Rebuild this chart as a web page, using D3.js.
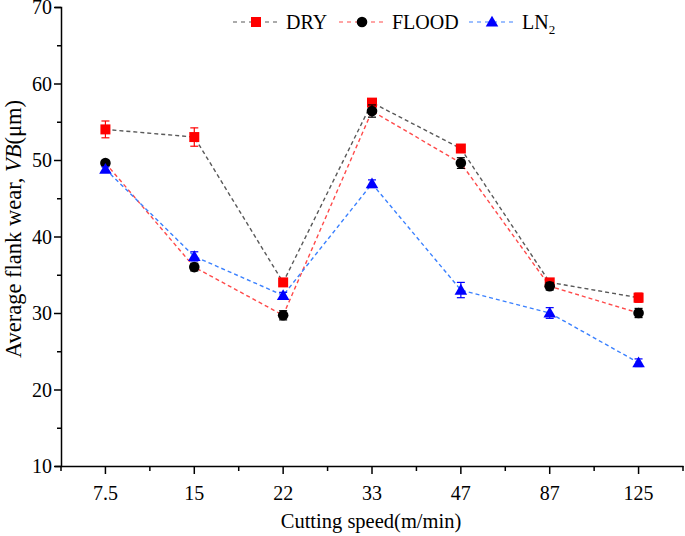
<!DOCTYPE html>
<html><head><meta charset="utf-8">
<script src="https://cdn.jsdelivr.net/npm/d3@7"></script>
</head><body style="margin:0;background:#fff"><svg id="c" width="685" height="536" font-family="Liberation Serif"></svg>
<script>
const categories = ["7.5","15","22","33","47","87","125"];
const dryValues   = [54, 53, 34, 57.5, 51.5, 34, 32];
const dryErrors   = [1.1, 1.2, 0.5, 0.4, 0.4, 0.4, 0.6];
const floodValues = [49.6, 36, 29.7, 56.4, 49.6, 33.5, 30];
const floodErrors = [0.3, 0.5, 0.6, 0.8, 0.7, 0.5, 0.6];
const ln2Values   = [48.8, 37.4, 32.3, 46.9, 33, 30, 23.5];
const ln2Errors   = [0.3, 0.6, 0.4, 0.5, 1.0, 0.7, 0.5];
const yTicks = [10, 20, 30, 40, 50, 60, 70];

const series = [
  {name:"DRY", values:dryValues, errors:dryErrors, line:"#595959", mark:"#ff0000", shape:"square"},
  {name:"FLOOD", values:floodValues, errors:floodErrors, line:"#ff4a4a", mark:"#000000", shape:"circle"},
  {name:"LN2", values:ln2Values, errors:ln2Errors, line:"#3a80ff", mark:"#0000ff", shape:"triangle"}
];

const FONT = "Liberation Serif";
const svg = d3.select("#c");
const L = 61, R = 683, T = 7, B = 466;
const x = d3.scaleBand().domain(categories).range([L, R]);
const cx = c => x(c) + x.bandwidth()/2;
const y = d3.scaleLinear().domain([10, 70]).range([B, T]);

const yAxis = d3.axisLeft(y).tickValues(d3.range(10, 70.1, 5)).tickSize(6).tickFormat(d => yTicks.includes(d) ? d : "");
const gy = svg.append("g").attr("transform", `translate(${L},0)`).call(yAxis);
gy.selectAll(".tick line").attr("x2", d => yTicks.includes(d) ? -7 : -4);
const gx = svg.append("g").attr("transform", `translate(0,${B})`).call(d3.axisBottom(x).tickSize(8).tickSizeOuter(0));
const bounds = categories.map(c => x(c)).concat([R]);
gx.selectAll(".minor").data(bounds).join("line").attr("class","minor")
  .attr("x1", d => d).attr("x2", d => d).attr("y1", 0).attr("y2", 5).attr("stroke", "#000").attr("stroke-width", 1.5);
[gx, gy].forEach(g => {
  g.attr("font-family", FONT).attr("font-size", 20);
  g.select(".domain").attr("stroke", "#000").attr("stroke-width", 1.5);
  g.selectAll(".tick line").attr("stroke", "#000").attr("stroke-width", 1.5);
  g.selectAll("text").attr("fill", "#000").attr("font-family", FONT).attr("font-size", 20);
});
gx.selectAll(".tick text").attr("y", 11).attr("dy", 23);
gy.selectAll(".tick text").attr("x", -9).attr("dy", "0.34em");

svg.append("text").attr("x", (L + R) / 2 - 1).attr("y", 528).attr("text-anchor", "middle")
  .attr("font-family", FONT).attr("font-size", 20.5).text("Cutting speed(m/min)");
const yt = svg.append("text").attr("transform", `translate(21,229) rotate(-90)`).attr("text-anchor", "middle")
  .attr("font-family", FONT).attr("font-size", 22.5);
yt.append("tspan").text("Average flank wear, ");
yt.append("tspan").attr("font-style", "italic").text("VB");
yt.append("tspan").text("(μm)");

function marker(g, shape, color, px, py) {
  if (shape === "square") g.append("rect").attr("x", px-5).attr("y", py-5).attr("width", 10).attr("height", 10).attr("fill", color);
  else if (shape === "circle") g.append("circle").attr("cx", px).attr("cy", py).attr("r", 5.3).attr("fill", color);
  else g.append("path").attr("d", d3.symbol(d3.symbolTriangle, 68)()).attr("transform", `translate(${px},${py+1})`).attr("fill", color);
}

const line = d3.line().x((d,i) => cx(categories[i])).y(d => y(d));
series.forEach(s => {
  svg.append("path").datum(s.values).attr("d", line).attr("fill", "none")
    .attr("stroke", s.line).attr("stroke-width", 1.4).attr("stroke-dasharray", "4,3");
});
series.forEach(s => {
  const g = svg.append("g");
  s.values.forEach((v, i) => {
    const px = cx(categories[i]);
    const e = s.errors[i];
    g.append("line").attr("x1", px).attr("x2", px).attr("y1", y(v+e)).attr("y2", y(v-e)).attr("stroke", s.mark).attr("stroke-width", 1.2);
    [v+e, v-e].forEach(w => g.append("line").attr("x1", px-4).attr("x2", px+4).attr("y1", y(w)).attr("y2", y(w)).attr("stroke", s.mark).attr("stroke-width", 1.2));
    marker(g, s.shape, s.mark, px, y(v));
  });
});

const legX = [233, 339, 469];
series.forEach((s, i) => {
  const g = svg.append("g");
  const lx = legX[i], ly = 22;
  g.append("line").attr("x1", lx).attr("x2", lx+44).attr("y1", ly).attr("y2", ly).attr("stroke", s.line).attr("stroke-width", 1.2).attr("stroke-dasharray", "4,4");
  marker(g, s.shape, s.mark, lx+23, ly);
  const t = g.append("text").attr("x", lx+53).attr("y", 29).attr("font-family", FONT).attr("font-size", 20);
  if (s.name === "LN2") { t.append("tspan").text("LN"); t.append("tspan").attr("dy", 5).attr("font-size", 13).text("2"); }
  else t.text(s.name);
});
</script></body></html>
